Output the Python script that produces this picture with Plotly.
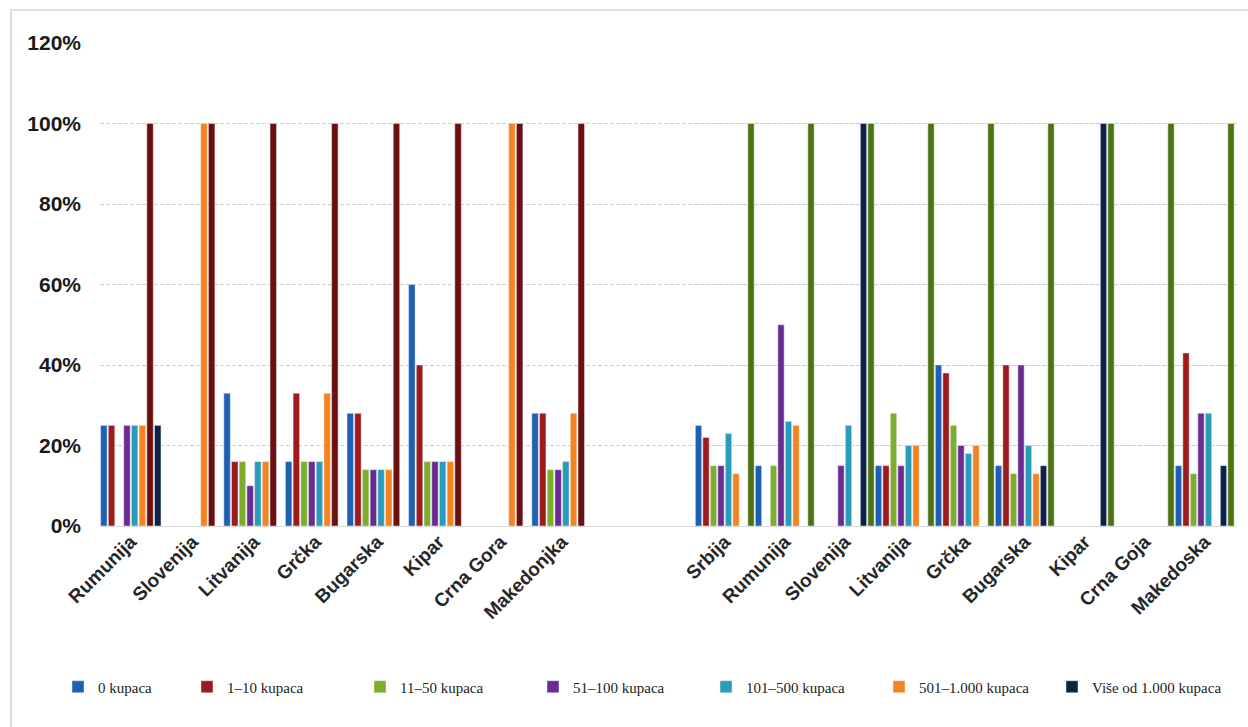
import plotly.graph_objects as go

# ---- data -------------------------------------------------------------
series_names = ["0 kupaca", "1–10 kupaca", "11–50 kupaca", "51–100 kupaca",
                "101–500 kupaca", "501–1.000 kupaca", "Više od 1.000 kupaca"]
series_colors = ["#1f5fb4", "#9e1b1b", "#7cae2a", "#6a2c91",
                 "#2a9bb8", "#f5841f", "#0e2148"]

countries_left = ["Rumunija", "Slovenija", "Litvanija", "Grčka", "Bugarska",
                  "Kipar", "Crna Gora", "Makedonjka"]
left_0 = [25, None, 33, 16, 28, 60, None, 28]
left_1_10 = [25, None, 16, 33, 28, 40, None, 28]
left_11_50 = [None, None, 16, 16, 14, 16, None, 14]
left_51_100 = [25, None, 10, 16, 14, 16, None, 14]
left_101_500 = [25, None, 16, 16, 14, 16, None, 16]
left_501_1000 = [25, 100, 16, 33, 14, 16, 100, 28]
left_over_1000 = [25, None, None, None, None, None, None, None]
left_total = [100, 100, 100, 100, 100, 100, 100, 100]

countries_right = ["Srbija", "Rumunija", "Slovenija", "Litvanija", "Grčka",
                   "Bugarska", "Kipar", "Crna Goja", "Makedoska"]
right_0 = [25, 15, None, 15, 40, 15, None, None, 15]
right_1_10 = [22, None, None, 15, 38, 40, None, None, 43]
right_11_50 = [15, 15, None, 28, 25, 13, None, None, 13]
right_51_100 = [15, 50, 15, 15, 20, 40, None, None, 28]
right_101_500 = [23, 26, 25, 20, 18, 20, None, None, 28]
right_501_1000 = [13, 25, None, 20, 20, 13, None, None, None]
right_over_1000 = [None, None, 100, None, None, 15, 100, None, 15]
right_total = [100, 100, 100, 100, 100, 100, 100, 100, 100]

y_ticks = [0, 20, 40, 60, 80, 100, 120]
y_tick_labels = [f"{v}%" for v in y_ticks]

left_series = [left_0, left_1_10, left_11_50, left_51_100,
               left_101_500, left_501_1000, left_over_1000]
right_series = [right_0, right_1_10, right_11_50, right_51_100,
                right_101_500, right_501_1000, right_over_1000]

TOTAL_LEFT_COLOR = "#6b0f0f"
TOTAL_RIGHT_COLOR = "#4e7313"

# ---- layout geometry (pixels) ----------------------------------------
W, H = 1248, 727
ML, MR, MT, MB = 100, 11, 43, 201
PW = W - ML - MR
PH = H - MT - MB
left_dom = [0.0, 492.8 / PW]
right_dom = [594.75 / PW, 1134.75 / PW]
LEGEND_ROW_Y = (PH - (687 - MT)) / PH


def legend_for(i):
    # the first class sits in its own legend box, the rest share a row
    return "legend" if i == 0 else "legend2"


fig = go.Figure()

# empty full-width subplot that carries the continuous horizontal grid
fig.add_trace(go.Scatter(x=[], y=[], xaxis="x", yaxis="y",
                         showlegend=False, hoverinfo="skip"))

# left panel: six classes, the total bar, then the largest class
for i in range(6):
    fig.add_trace(go.Bar(x=countries_left, y=left_series[i], name=series_names[i],
                         marker_color=series_colors[i], legendgroup=series_names[i],
                         legend=legend_for(i), xaxis="x2", yaxis="y", showlegend=True))
fig.add_trace(go.Bar(x=countries_left, y=left_total, name="Ukupno",
                     marker_color=TOTAL_LEFT_COLOR, xaxis="x2", yaxis="y",
                     showlegend=False))
fig.add_trace(go.Bar(x=countries_left, y=left_series[6], name=series_names[6],
                     marker_color=series_colors[6], legendgroup=series_names[6],
                     legend=legend_for(6), xaxis="x2", yaxis="y", showlegend=True))

# right panel: all seven classes followed by the total bar
for i in range(7):
    fig.add_trace(go.Bar(x=countries_right, y=right_series[i], name=series_names[i],
                         marker_color=series_colors[i], legendgroup=series_names[i],
                         legend=legend_for(i), xaxis="x3", yaxis="y", showlegend=False))
fig.add_trace(go.Bar(x=countries_right, y=right_total, name="Ukupno",
                     marker_color=TOTAL_RIGHT_COLOR, xaxis="x3", yaxis="y",
                     showlegend=False))

xfont = dict(family="Liberation Sans", size=19, color="#262626", weight="bold")
legend_font = dict(family="Liberation Serif", size=15, color="#222222")

fig.update_layout(
    width=W, height=H,
    margin=dict(l=ML, r=MR, t=MT, b=MB, pad=0),
    paper_bgcolor="white",
    plot_bgcolor="rgba(0,0,0,0)",
    barmode="group",
    bargap=0.0,
    bargroupgap=0.16,
    xaxis=dict(domain=[0, 1], range=[0, 1], anchor="y", showticklabels=False,
               ticks="", showgrid=False, zeroline=False, showline=True,
               linecolor="#d9d9d9", linewidth=1, fixedrange=True),
    xaxis2=dict(domain=left_dom, anchor="y", type="category", tickangle=-45,
                tickfont=xfont, showgrid=False, showline=False, ticks=""),
    xaxis3=dict(domain=right_dom, anchor="y", type="category", tickangle=-45,
                tickfont=xfont, showgrid=False, showline=False, ticks=""),
    yaxis=dict(range=[0, 120], tickvals=y_ticks, ticktext=y_tick_labels,
               tickmode="array", anchor="x",
               showgrid=True, gridcolor="#d0d0d0", griddash="4px,2px", gridwidth=1,
               zeroline=False, showline=False, ticks="", ticklabelstandoff=18,
               tickfont=dict(family="Liberation Sans", size=21, color="#1a1a1a",
                             weight="bold")),
    legend=dict(orientation="h", x=(58 - ML) / PW, xanchor="left",
                y=LEGEND_ROW_Y, yanchor="middle", font=legend_font,
                bgcolor="rgba(0,0,0,0)", traceorder="normal"),
    legend2=dict(orientation="h", x=(187 - ML) / PW, xanchor="left",
                 y=LEGEND_ROW_Y, yanchor="middle", font=legend_font,
                 entrywidth=128, entrywidthmode="pixels",
                 bgcolor="rgba(0,0,0,0)", traceorder="normal"),
    shapes=[dict(type="rect", xref="paper", yref="paper",
                 x0=(11 - ML) / PW, x1=1.05,
                 y0=-0.5, y1=(PH + MT - 10) / PH,
                 line=dict(color="#d6d6d6", width=1.5), layer="below")],
)

fig.write_html("out.html")
